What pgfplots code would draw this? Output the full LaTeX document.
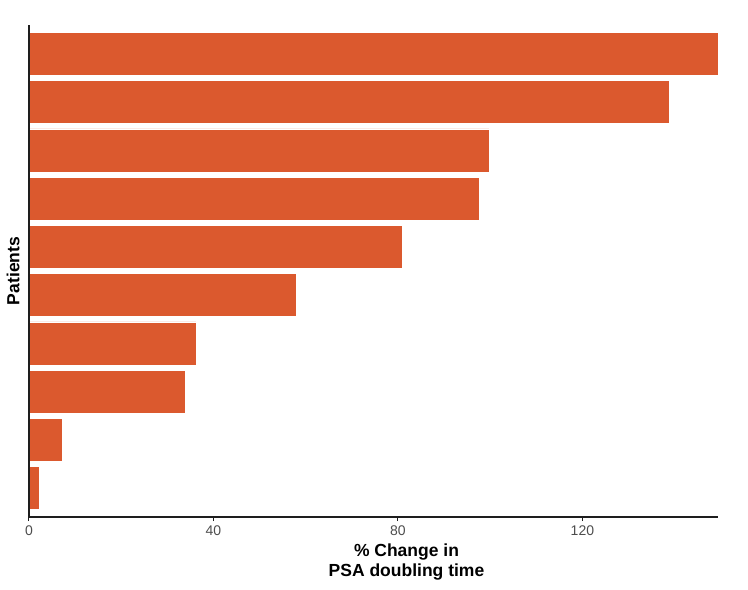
\documentclass[border=0pt]{standalone}
\usepackage{pgfplots}
\pgfplotsset{compat=1.18}
\usepackage{fontspec}
\setmainfont{Liberation Sans}
\definecolor{barorange}{RGB}{219,89,46}
\definecolor{tickgrey}{RGB}{77,77,77}
\definecolor{axisdark}{RGB}{30,30,30}

% Percent change in PSA doubling time, one bar per patient (bottom to top)
\begin{document}
\begin{tikzpicture}[x=1pt,y=1pt]
\begin{axis}[
  scale only axis,
  width=689pt, height=492pt,
  xmin=0, xmax=149.4,
  ymin=0.4, ymax=10.6,
  axis on top,
  axis x line*=bottom,
  axis y line*=left,
  axis line style={axisdark, line width=1.1pt},
  xtick={0,40,80,120},
  ytick=\empty,
  tick align=outside,
  major tick length=4pt,
  x tick style={axisdark, line width=1pt},
  /pgf/number format/assume math mode=true,
  x tick label style={font=\fontsize{14}{15}\selectfont, text=tickgrey, yshift=-1pt},
  xlabel={\textbf{\% Change in}\\\textbf{PSA doubling time}},
  xlabel style={font=\fontsize{17.5}{20}\selectfont, align=center, yshift=-2pt, xshift=33pt},
  ylabel={\textbf{Patients}},
  ylabel style={font=\fontsize{17.5}{20}\selectfont, yshift=2pt},
  xbar, bar width=0.89, bar shift=0pt,
  clip=false,
]
\addplot[fill=barorange, draw=white, line width=0.6pt] coordinates {
  (2.2,1) (7.2,2) (33.8,3) (36.2,4) (57.9,5)
  (80.9,6) (97.6,7) (99.7,8) (138.8,9) (149.4,10)
};
\end{axis}
\useasboundingbox ([xshift=-29pt,yshift=-72pt]current axis.south west)
  rectangle ([xshift=30pt,yshift=25pt]current axis.north east);
\end{tikzpicture}
\end{document}
